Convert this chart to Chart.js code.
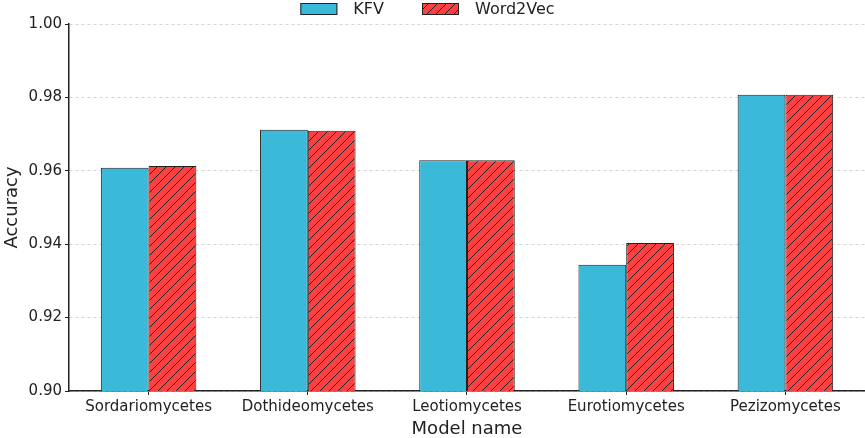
<!DOCTYPE html>
<html>
<head>
<meta charset="utf-8">
<script src="https://cdn.jsdelivr.net/npm/chart.js@4"></script>
<style>
  html, body { margin: 0; padding: 0; background: #fff; }
  #wrap { width: 865px; height: 438px; }
</style>
</head>
<body>
<div id="wrap"><canvas id="chart" width="865" height="438"></canvas></div>
<script>
const categories = ["Sordariomycetes", "Dothideomycetes", "Leotiomycetes", "Eurotiomycetes", "Pezizomycetes"];
const kfv = [0.9608, 0.9712, 0.9629, 0.9344, 0.9807];
const word2vec = [0.9613, 0.9709, 0.9629, 0.9403, 0.9807];
const yTicks = [0.90, 0.92, 0.94, 0.96, 0.98, 1.00];

const FONT = "'DejaVu Sans', sans-serif";

const makeHatch = () => {
  const size = 9;
  const c = document.createElement("canvas");
  c.width = size;
  c.height = size;
  const g = c.getContext("2d");
  g.fillStyle = "#ff4040";
  g.fillRect(0, 0, size, size);
  g.strokeStyle = "#222";
  g.lineWidth = 1;
  g.beginPath();
  g.moveTo(0, size);
  g.lineTo(size, 0);
  g.moveTo(-size / 2, size / 2);
  g.lineTo(size / 2, -size / 2);
  g.moveTo(size / 2, size + size / 2);
  g.lineTo(size + size / 2, size / 2);
  g.stroke();
  return g.createPattern(c, "repeat");
};

// matplotlib-style legend: wide boxes, roomy gaps, sitting tight at the top
const topLegend = {
  id: "topLegend",
  afterDraw: (chart) => {
    const c = chart.ctx;
    const boxW = 37, boxH = 12, gap = 16, itemGap = 38, y = 3;
    c.save();
    c.font = "16px " + FONT;
    c.textBaseline = "middle";
    const items = chart.data.datasets.map((ds) => ({
      ds,
      w: boxW + gap + c.measureText(ds.label).width,
    }));
    const total = items.reduce((s, it) => s + it.w, 0) + itemGap * (items.length - 1);
    let x = chart.width / 2 - total / 2 - 5;
    items.forEach((it) => {
      c.fillStyle = it.ds.backgroundColor;
      c.fillRect(x, y, boxW, boxH);
      c.strokeStyle = "#222";
      c.lineWidth = 1;
      c.strokeRect(x + 0.5, y + 0.5, boxW - 1, boxH - 1);
      c.fillStyle = "#222";
      c.fillText(it.ds.label, x + boxW + gap, y + boxH / 2 + 1);
      x += it.w + itemGap;
    });
    c.restore();
  },
};

const ctx = document.getElementById("chart").getContext("2d");
const hatch = makeHatch();

const chart = new Chart(ctx, {
  type: "bar",
  data: {
    labels: categories,
    datasets: [
      {
        label: "KFV",
        data: kfv,
        backgroundColor: "#3bb9d8",
        borderColor: "#222",
        borderWidth: 1,
      },
      {
        label: "Word2Vec",
        data: word2vec,
        backgroundColor: hatch,
        borderColor: "#222",
        borderWidth: 1,
      },
    ],
  },
  options: {
    responsive: false,
    animation: false,
    devicePixelRatio: 1,
    layout: { padding: { left: 2, right: 0, top: 24, bottom: 0 } },
    datasets: {
      bar: { categoryPercentage: 0.6, barPercentage: 1.0 },
    },
    scales: {
      x: {
        offset: true,
        grid: {
          offset: false,
          drawOnChartArea: false,
          color: "#222",
          tickColor: "#222",
          tickLength: 4,
        },
        border: { display: true, color: "#222", width: 1.5 },
        ticks: { color: "#222", font: { family: FONT, size: 15 }, padding: 3 },
        title: {
          display: true,
          text: "Model name",
          color: "#222",
          font: { family: FONT, size: 18, lineHeight: 1 },
          padding: { top: 1, bottom: 0 },
        },
      },
      y: {
        min: 0.9,
        max: 1.0,
        afterBuildTicks: (axis) => {
          axis.ticks = yTicks.map((v) => ({ value: v }));
        },
        grid: {
          color: "#d4d4d4",
          lineWidth: 1,
          tickColor: "#222",
          tickLength: 4,
          tickBorderDash: [],
        },
        border: { display: true, color: "#222", width: 1.5, dash: [3, 3] },
        ticks: {
          color: "#222",
          font: { family: FONT, size: 15 },
          padding: 3,
          callback: (v) => v.toFixed(2),
        },
        title: {
          display: true,
          text: "Accuracy",
          color: "#222",
          font: { family: FONT, size: 18 },
          padding: { top: 0, bottom: 2 },
        },
      },
    },
    plugins: {
      legend: { display: false },
      tooltip: { enabled: false },
    },
  },
  plugins: [topLegend],
});
</script>
</body>
</html>
